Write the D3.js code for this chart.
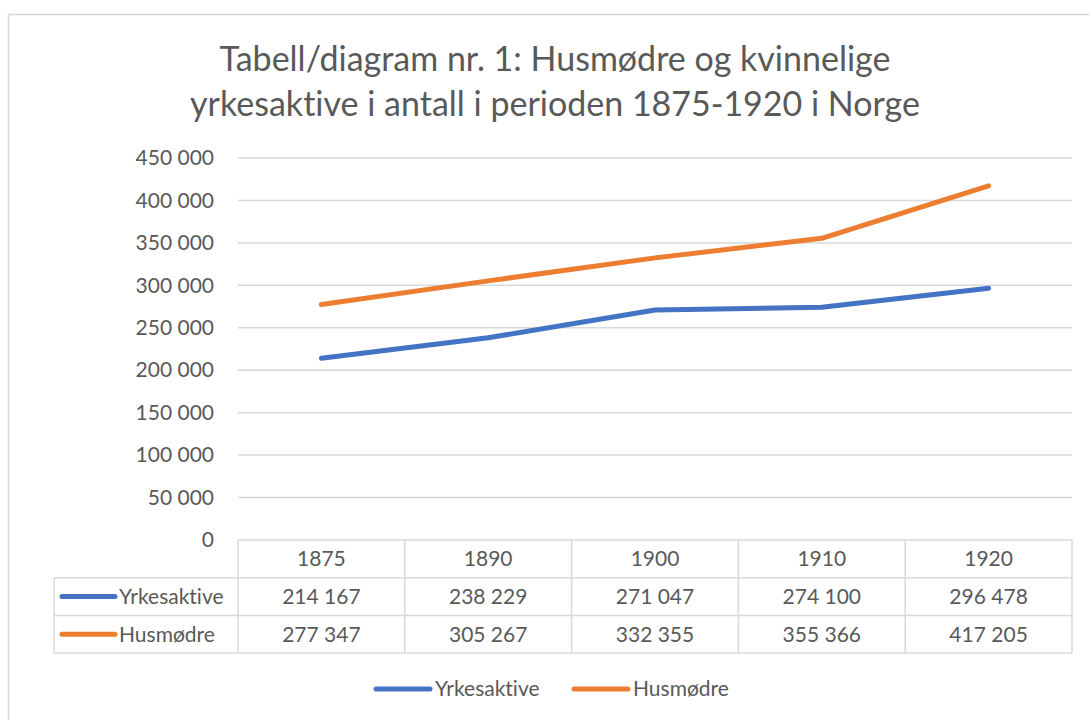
<!DOCTYPE html>
<html>
<head>
<meta charset="utf-8">
<script src="https://cdn.jsdelivr.net/npm/d3@7"></script>
<style>
  body { margin: 0; background: #fff; }
  svg { display: block; font-family: Lato, "Noto Sans", sans-serif; font-variant-ligatures: none; }
</style>
</head>
<body>
<svg id="chart"></svg>
<script>
const years = ['1875', '1890', '1900', '1910', '1920'];
const yrkesaktive = [214167, 238229, 271047, 274100, 296478];
const husmodre = [277347, 305267, 332355, 355366, 417205];
const seriesNames = ['Yrkesaktive', 'Husmødre'];
const yTicks = [0, 50000, 100000, 150000, 200000, 250000, 300000, 350000, 400000, 450000];
const titleLines = ['Tabell/diagram nr. 1: Husmødre og kvinnelige', 'yrkesaktive i antall i perioden 1875-1920 i Norge'];

const colors = ['#4472C4', '#ED7D31'];
const grey = '#595959';
const gridColor = '#d9d9d9';

const W = 1089, H = 720;
const plotLeft = 238, plotRight = 1072, plotTop = 158, plotBottom = 540;
const fs = '21px';

// norsk tallformat: mellomrom som tusenskille
const nb = d3.formatLocale({ decimal: ',', thousands: ' ', grouping: [3], currency: ['', ''] });
const fmt = nb.format(',d');

const svg = d3.select('#chart').attr('width', W).attr('height', H);

// chart border
svg.append('rect')
  .attr('x', 8.5).attr('y', 14.5)
  .attr('width', W + 10).attr('height', H + 10)
  .attr('fill', 'none').attr('stroke', gridColor).attr('stroke-width', 1.5);

// title
svg.append('text')
  .attr('x', 555).attr('y', 71)
  .attr('text-anchor', 'middle')
  .attr('fill', grey)
  .style('font-size', '34px')
  .selectAll('tspan')
  .data(titleLines)
  .join('tspan')
  .attr('x', 555)
  .attr('dy', (d, i) => i === 0 ? 0 : 45)
  .text(d => d);

const x = d3.scaleBand().domain(years).range([plotLeft, plotRight]).padding(0);
const y = d3.scaleLinear().domain([0, 450000]).range([plotBottom, plotTop]);

// gridlines
svg.append('g')
  .selectAll('line')
  .data(yTicks.slice(1))
  .join('line')
  .attr('x1', plotLeft).attr('x2', plotRight)
  .attr('y1', d => y(d)).attr('y2', d => y(d))
  .attr('stroke', gridColor).attr('stroke-width', 1.5);

// y axis labels
const yAxis = svg.append('g')
  .attr('transform', `translate(${plotLeft},0)`)
  .call(d3.axisLeft(y).tickValues(yTicks).tickFormat(fmt).tickSize(0).tickPadding(24));
yAxis.select('.domain').remove();
yAxis.selectAll('text')
  .attr('fill', grey)
  .style('font-size', fs)
  .style('font-family', 'Lato, "Noto Sans", sans-serif');

// lines
const series = [yrkesaktive, husmodre];
const line = d3.line()
  .x((d, i) => x(years[i]) + x.bandwidth() / 2)
  .y(d => y(d));

svg.append('g')
  .selectAll('path')
  .data(series)
  .join('path')
  .attr('d', line)
  .attr('fill', 'none')
  .attr('stroke', (d, i) => colors[i])
  .attr('stroke-width', 5)
  .attr('stroke-linecap', 'round')
  .attr('stroke-linejoin', 'round');

// data table
const rowH = 37.7;
const tableLeft = 54;
const table = svg.append('g');
const tableLine = (x1, y1, x2, y2) => table.append('line')
  .attr('x1', x1).attr('y1', y1).attr('x2', x2).attr('y2', y2)
  .attr('stroke', gridColor).attr('stroke-width', 1.5);

tableLine(plotLeft, plotBottom, plotRight, plotBottom);
[1, 2, 3].forEach(r => tableLine(tableLeft, plotBottom + r * rowH, plotRight, plotBottom + r * rowH));
tableLine(tableLeft, plotBottom + rowH, tableLeft, plotBottom + 3 * rowH);
years.forEach(yr => tableLine(x(yr), plotBottom, x(yr), plotBottom + 3 * rowH));
tableLine(plotRight, plotBottom, plotRight, plotBottom + 3 * rowH);

// header row
table.selectAll('.yr')
  .data(years)
  .join('text')
  .attr('class', 'yr')
  .attr('x', d => x(d) + x.bandwidth() / 2)
  .attr('y', plotBottom + rowH / 2)
  .attr('dy', '0.35em')
  .attr('text-anchor', 'middle')
  .attr('fill', grey)
  .style('font-size', fs)
  .text(d => d);

series.forEach((vals, s) => {
  const cy = plotBottom + rowH * (s + 1.5);
  table.append('line')
    .attr('x1', 62).attr('x2', 115)
    .attr('y1', cy).attr('y2', cy)
    .attr('stroke', colors[s]).attr('stroke-width', 5).attr('stroke-linecap', 'round');
  table.append('text')
    .attr('x', 119).attr('y', cy).attr('dy', '0.35em')
    .attr('fill', grey).style('font-size', fs)
    .text(seriesNames[s]);
  table.selectAll('.v' + s)
    .data(vals)
    .join('text')
    .attr('class', 'v' + s)
    .attr('x', (d, i) => x(years[i]) + x.bandwidth() / 2)
    .attr('y', cy).attr('dy', '0.35em')
    .attr('text-anchor', 'middle')
    .attr('fill', grey).style('font-size', fs)
    .text(d => fmt(d));
});

// legend
const legendPos = [376, 574];
const legend = svg.append('g')
  .selectAll('g')
  .data(seriesNames)
  .join('g')
  .attr('transform', (d, i) => `translate(${legendPos[i]},689)`);
legend.append('line')
  .attr('x1', 0).attr('x2', 54)
  .attr('stroke', (d, i) => colors[i]).attr('stroke-width', 5).attr('stroke-linecap', 'round');
legend.append('text')
  .attr('x', 59).attr('dy', '0.35em')
  .attr('fill', grey).style('font-size', fs)
  .text(d => d);
</script>
</body>
</html>
